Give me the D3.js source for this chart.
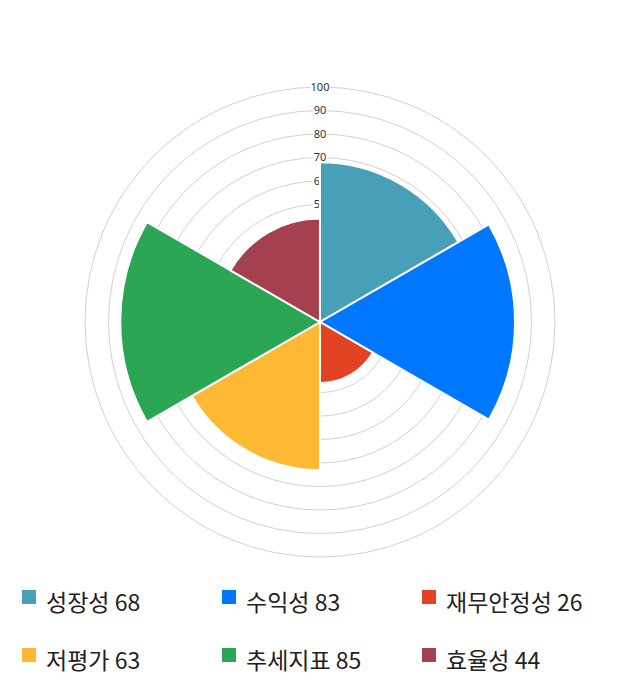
<!DOCTYPE html>
<html>
<head>
<meta charset="utf-8">
<script src="https://cdn.jsdelivr.net/npm/d3@7"></script>
<style>
  body { margin: 0; background: #fff; }
</style>
</head>
<body>
<div id="chart"></div>
<script>
const categories = ["성장성", "수익성", "재무안정성", "저평가", "추세지표", "효율성"];
const values = [68, 83, 26, 63, 85, 44];
const colors = ["#48A0B8", "#0077FF", "#E24325", "#FDB933", "#2BA655", "#A5404F"];
const ticks = [10, 20, 30, 40, 50, 60, 70, 80, 90, 100];

const width = 640;
const height = 700;
const cx = 320, cy = 322;
const radius = 235;

const svg = d3.select("#chart").append("svg")
    .attr("width", width)
    .attr("height", height);

const r = d3.scaleLinear().domain([0, 100]).range([0, radius]);
const angle = d3.scaleBand().domain(categories).range([0, 2 * Math.PI]);

const g = svg.append("g").attr("transform", `translate(${cx},${cy})`);

// grid rings
g.selectAll("circle.ring").data(ticks).enter().append("circle")
    .attr("class", "ring")
    .attr("r", d => r(d))
    .attr("fill", "none")
    .attr("stroke", "#d0d0d0")
    .attr("stroke-width", 1);

// tick labels with white backdrop
const lab = g.selectAll("g.tick").data(ticks).enter().append("g")
    .attr("class", "tick")
    .attr("transform", d => `translate(0,${-r(d)})`);
lab.append("rect")
    .attr("x", d => d === 100 ? -10 : -7)
    .attr("y", -6)
    .attr("width", d => d === 100 ? 20 : 14)
    .attr("height", 12)
    .attr("fill", "#fff");
lab.append("text")
    .attr("text-anchor", "middle")
    .attr("dy", "0.35em")
    .attr("font-family", "Noto Sans, Arial, sans-serif")
    .attr("font-size", 11)
    .attr("fill", "#333")
    .text(d => d);

// sectors
const arc = d3.arc()
    .innerRadius(0)
    .outerRadius(d => r(d.value))
    .startAngle(d => angle(d.name))
    .endAngle(d => angle(d.name) + angle.bandwidth());

const data = categories.map((c, i) => ({ name: c, value: values[i], color: colors[i] }));

g.selectAll("path.sector").data(data).enter().append("path")
    .attr("class", "sector")
    .attr("d", arc)
    .attr("fill", d => d.color)
    .attr("stroke", "#fff")
    .attr("stroke-width", 2);

// legend
const legend = svg.append("g");
const item = legend.selectAll("g.item").data(data).enter().append("g")
    .attr("class", "item")
    .attr("transform", (d, i) => `translate(${22 + (i % 3) * 200},${590 + Math.floor(i / 3) * 58})`);
item.append("rect")
    .attr("width", 14)
    .attr("height", 14)
    .attr("fill", d => d.color);
item.append("text")
    .attr("x", 24)
    .attr("y", 21)
    .attr("font-family", "Noto Sans CJK KR, Noto Sans, sans-serif")
    .attr("font-size", 23)
    .attr("fill", "#222")
    .text(d => `${d.name} ${d.value}`);
</script>
</body>
</html>
